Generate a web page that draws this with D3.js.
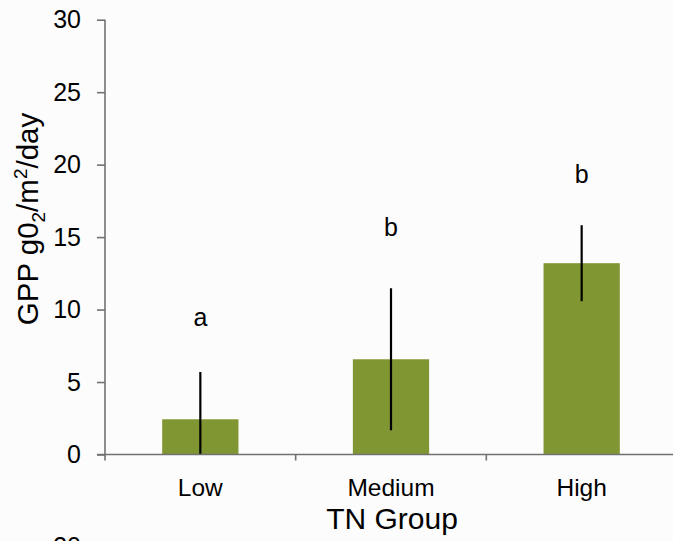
<!DOCTYPE html>
<html>
<head>
<meta charset="utf-8">
<script src="https://cdn.jsdelivr.net/npm/d3@7"></script>
<style>
  html, body { margin: 0; padding: 0; background: #fcfcfc; }
  svg { display: block; font-family: Arial, "Liberation Sans", sans-serif; }
</style>
</head>
<body>
<svg id="chart" width="673" height="541"></svg>
<script>
// ---- data ----
const categories = ["Low", "Medium", "High"];
const means = [2.43, 6.57, 13.2];
const errors = [3.26, 4.9, 2.62];
const letters = ["a", "b", "b"];
const letterLevels = [8.9, 15.1, 18.7];
const yTicks = [0, 5, 10, 15, 20, 25, 30];
const yTitle = "GPP g0";
const xTitle = "TN Group";

(function () {
// ---- layout ----
const svg = d3.select("#chart");
const mLeft = 105, mRight = 677, mTop = 19.7, mBottom = 454.5;

const x = d3.scaleBand().domain(categories).range([mLeft, mRight]).paddingInner(0.6).paddingOuter(0.3);
const y = d3.scaleLinear().domain([0, 30]).range([mBottom, mTop]);
const axisColor = "#717171";

// bars
svg.append("g").selectAll("rect").data(categories).join("rect")
  .attr("x", d => x(d))
  .attr("width", x.bandwidth())
  .attr("y", (d, i) => y(means[i]))
  .attr("height", (d, i) => y(0) - y(means[i]))
  .attr("fill", "#7f9632");

// error bars (no caps), clipped at 0
svg.append("g").selectAll("line").data(categories).join("line")
  .attr("x1", d => x(d) + x.bandwidth() / 2)
  .attr("x2", d => x(d) + x.bandwidth() / 2)
  .attr("y1", (d, i) => y(Math.max(0, means[i] - errors[i])))
  .attr("y2", (d, i) => y(means[i] + errors[i]))
  .attr("stroke", "#000").attr("stroke-width", 2.2);

// significance letters
svg.append("g").selectAll("text").data(categories).join("text")
  .attr("x", d => x(d) + x.bandwidth() / 2)
  .attr("y", (d, i) => y(letterLevels[i]))
  .attr("text-anchor", "middle")
  .attr("font-size", 25)
  .attr("fill", "#000")
  .text((d, i) => letters[i]);

// y axis
const yAxis = d3.axisLeft(y).tickValues(yTicks).tickSize(8).tickSizeOuter(0).tickPadding(16);
const gy = svg.append("g").attr("transform", `translate(${mLeft},0)`).call(yAxis);
gy.select(".domain").attr("stroke", axisColor).attr("stroke-width", 1.6)
  .attr("d", `M0,${mTop}V${mBottom + 6}`);
gy.selectAll(".tick line").attr("stroke", axisColor).attr("stroke-width", 1.6);
gy.selectAll(".tick text").attr("font-size", 25).attr("fill", "#000")
  .attr("font-family", "Arial, 'Liberation Sans', sans-serif");

// x axis line and boundary ticks
const boundaries = categories.map((d, i) => mLeft + i * (mRight - mLeft) / categories.length);
svg.append("line").attr("x1", mLeft - 8).attr("x2", 673)
  .attr("y1", mBottom).attr("y2", mBottom)
  .attr("stroke", axisColor).attr("stroke-width", 1.6);
svg.append("g").selectAll("line").data(boundaries.slice(1)).join("line")
  .attr("x1", d => d).attr("x2", d => d)
  .attr("y1", mBottom).attr("y2", mBottom + 6)
  .attr("stroke", axisColor).attr("stroke-width", 1.6);

// category labels
svg.append("g").selectAll("text").data(categories).join("text")
  .attr("x", d => x(d) + x.bandwidth() / 2)
  .attr("y", 495.5)
  .attr("text-anchor", "middle")
  .attr("font-size", 24.5)
  .attr("fill", "#000")
  .text(d => d);

// axis titles
svg.append("text")
  .attr("x", 392).attr("y", 529)
  .attr("text-anchor", "middle")
  .attr("font-size", 30)
  .attr("fill", "#000")
  .text(xTitle);

const yt = svg.append("text")
  .attr("transform", "translate(38,219) rotate(-90)")
  .attr("text-anchor", "middle")
  .attr("font-size", 29.5)
  .attr("fill", "#000");
yt.append("tspan").text(yTitle);
yt.append("tspan").attr("font-size", 19).attr("dy", 7).text("2");
yt.append("tspan").attr("dy", -7).text("/m");
yt.append("tspan").attr("font-size", 19).attr("dy", -11).text("2");
yt.append("tspan").attr("dy", 11).text("/day");

// partially visible label of the next chart below (cut off in the reference too)
svg.append("text")
  .attr("x", 81).attr("y", 555)
  .attr("text-anchor", "end")
  .attr("font-size", 25)
  .attr("fill", "#000")
  .text("30");
})();
</script>
</body>
</html>
